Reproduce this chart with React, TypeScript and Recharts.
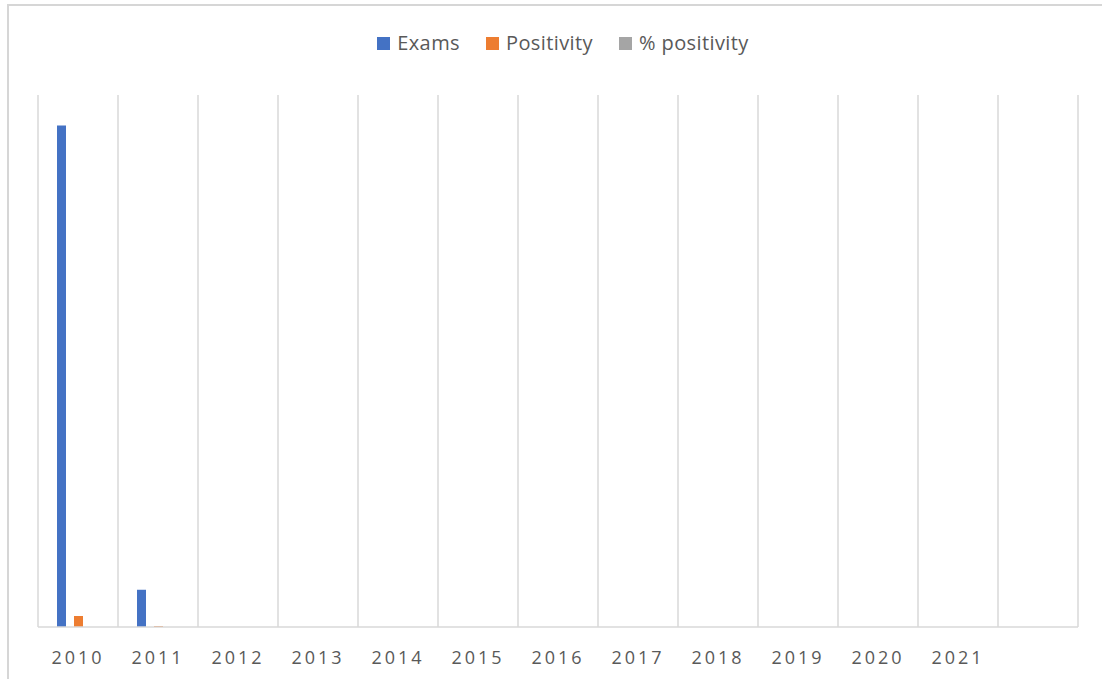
import { Bar, BarChart, CartesianGrid, XAxis, YAxis } from "recharts";

const years = ["2010", "2011", "2012", "2013", "2014", "2015", "2016", "2017", "2018", "2019", "2020", "2021", ""];
const exams = [66000, 4900];
const positivity = [1450, 130];
const pctPositivity = [2.2, 2.6];

const series = [
  { key: "Exams", color: "#4472C4" },
  { key: "Positivity", color: "#ED7D31" },
  { key: "% positivity", color: "#A5A5A5" },
];

const data = years.map((y, i) => ({
  year: y,
  Exams: exams[i] ?? null,
  Positivity: positivity[i] ?? null,
  "% positivity": pctPositivity[i] ?? null,
}));

const font = "'Open Sans', sans-serif";

function ChartLegend() {
  return (
    <div
      style={{
        position: "absolute",
        left: 12,
        top: 29,
        width: 1102,
        display: "flex",
        justifyContent: "center",
        gap: 26,
        fontFamily: font,
        fontSize: 20,
        letterSpacing: 0.4,
        color: "#595959",
        lineHeight: "28px",
      }}
    >
      {series.map((s) => (
        <div key={s.key} style={{ display: "flex", alignItems: "center", gap: 7 }}>
          <span style={{ width: 13, height: 13, background: s.color, display: "inline-block" }} />
          <span>{s.key}</span>
        </div>
      ))}
    </div>
  );
}

function YearTick({ x, y, payload }: any) {
  return (
    <text x={x} y={y} dy={35} textAnchor="middle" fill="#595959" fontFamily={font} fontSize={18} letterSpacing={3}>
      {payload.value}
    </text>
  );
}

export default function App() {
  return (
    <div style={{ position: "absolute", left: 0, top: 0, width: 1102, height: 679, background: "#fff" }}>
      <div
        style={{
          position: "absolute",
          left: 7,
          top: 4,
          width: 1100,
          height: 680,
          borderTop: "2px solid #d6d6d6",
          borderLeft: "2px solid #d6d6d6",
        }}
      />
      <ChartLegend />
      <div style={{ position: "absolute", left: 0, top: 0 }}>
        <BarChart
          width={1102}
          height={679}
          data={data}
          margin={{ top: 95, right: 24, bottom: 0, left: 38 }}
          barSize={9}
          barGap={8}
        >
          <CartesianGrid
            horizontal={false}
            stroke="#d9d9d9"
            strokeWidth={1.5}
            verticalCoordinatesGenerator={({ offset }: any) =>
              Array.from({ length: years.length + 1 }, (_, i) => offset.left + (i * offset.width) / years.length)
            }
          />
          <XAxis
            dataKey="year"
            axisLine={{ stroke: "#d9d9d9", strokeWidth: 1.5 }}
            tickLine={false}
            tickSize={0}
            tick={<YearTick />}
            interval={0}
            height={52}
          />
          <YAxis hide domain={[0, 70000]} />
          {series.map((s) => (
            <Bar key={s.key} dataKey={s.key} fill={s.color} isAnimationActive={false} />
          ))}
        </BarChart>
      </div>
    </div>
  );
}
